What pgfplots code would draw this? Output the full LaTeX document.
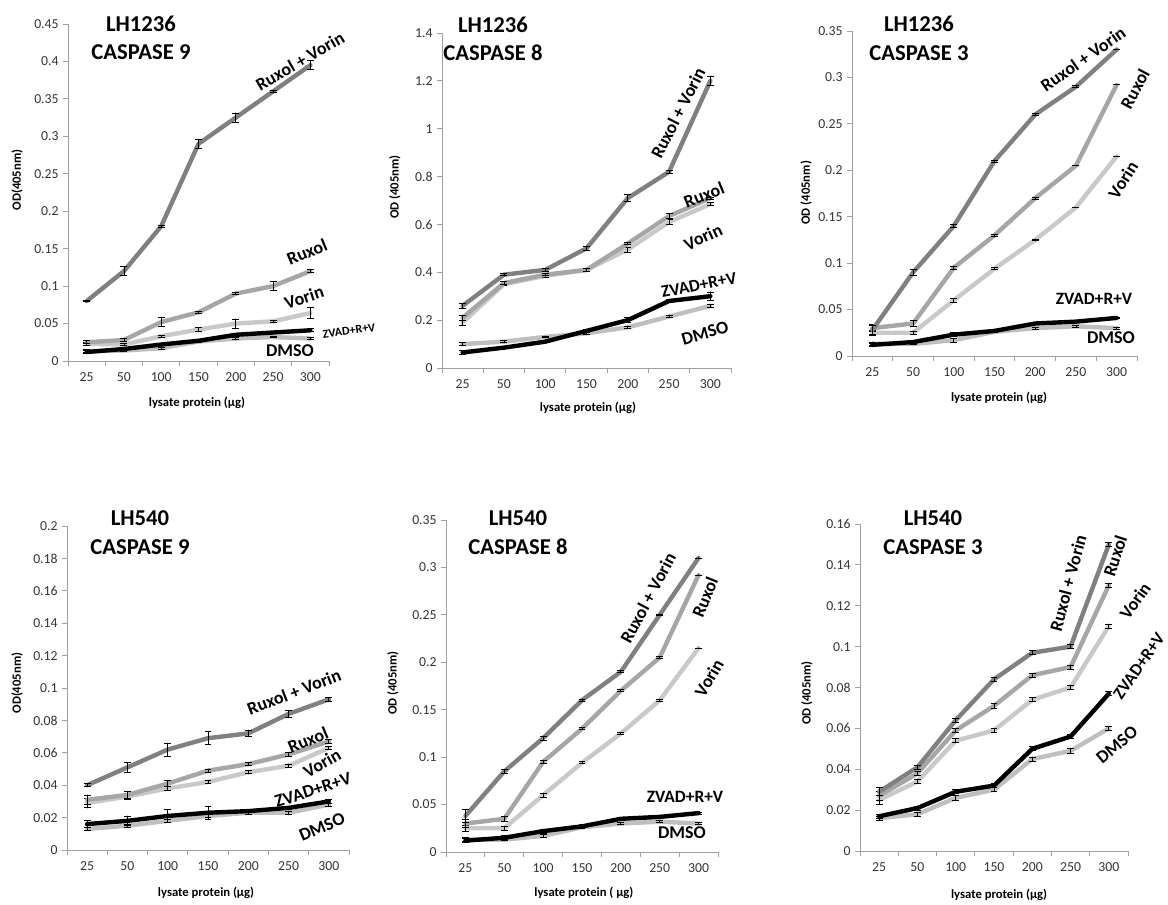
\documentclass[border=0pt]{standalone}
\usepackage{fontspec}
\setmainfont{Carlito}
\usepackage{pgfplots}
\pgfplotsset{compat=1.18}
\definecolor{cRV}{HTML}{808080}
\definecolor{cRux}{HTML}{A6A6A6}
\definecolor{cVor}{HTML}{C9C9C9}
\definecolor{cDM}{HTML}{BFBFBF}
\definecolor{cAx}{HTML}{A0A0A0}
\pgfplotsset{
  panel/.style={
    scale only axis,
    anchor=south west,
    axis lines=left,
    axis line style={-, draw=cAx, line width=0.7pt},
    xmin=0.5, xmax=7.5, ymin=0,
    xtick={1,...,7},
    xticklabels={25,50,100,150,200,250,300},
    minor xtick={0.5,1.5,...,7.5},
    major x tick style={draw=none},
    minor x tick style={draw=cAx, line width=0.7pt},
    ytick style={draw=cAx, line width=0.7pt},
    minor tick length=3.5pt,
    major tick length=3.5pt,
    tick align=outside,
    tick label style={font=\fontsize{10.3}{11}\selectfont, text=black!80},
    xticklabel style={yshift=-2pt},
    /pgf/number format/assume math mode=true,
    yticklabel style={/pgf/number format/fixed, /pgf/number format/precision=2},
    scaled y ticks=false,
    label style={font=\bfseries\fontsize{9.5}{11}\selectfont},
    ylabel style={anchor=center},
    xlabel style={anchor=center},
    clip=false,
  },
  ser/.style={line width=3.3pt, mark=none, line join=round, line cap=round, color=#1,
    error bars/.cd, y dir=both, y explicit,
    error bar style={black, line width=0.6pt},
    error mark options={black, rotate=90, mark size=2.6pt, line width=0.6pt}},
}
\newcommand{\ttl}[3]{\node[font=\bfseries\fontsize{17}{21.5}\selectfont, align=center] at (#1,#2) {#3};}
\newcommand{\lab}[5]{\node[font=\bfseries\fontsize{#5}{14}\selectfont, rotate=#3, inner sep=0pt] at (#1,#2) {#4};}
\begin{document}
\begin{tikzpicture}[x=0.75pt, y=0.75pt]
\path[use as bounding box] (0,0) rectangle (1168,904);

% ---------- Panel 1: LH1236 CASPASE 9
\begin{axis}[panel, at={(51pt,407.25pt)}, width=195.75pt, height=252.75pt,
  ymax=0.45, ytick={0,0.05,...,0.451},
  ylabel={OD(405nm)}, ylabel style={at={(axis description cs:-0.195,0.537)}},
  xlabel={lysate protein (µg)}, xlabel style={at={(axis description cs:0.494,-0.125)}}]
\addplot[ser=cDM] table[x index=0,y index=1,y error index=2] {
x y e
1 0.013 0.002
2 0.014 0.001
3 0.017 0.001
4 0.026 0.001
5 0.030 0.001
6 0.032 0.001
7 0.030 0.001
};
\addplot[ser=cVor] table[x index=0,y index=1,y error index=2] {
x y e
1 0.023 0.002
2 0.022 0.001
3 0.033 0.001
4 0.042 0.003
5 0.050 0.006
6 0.053 0.001
7 0.064 0.007
};
\addplot[ser=cRux] table[x index=0,y index=1,y error index=2] {
x y e
1 0.025 0.002
2 0.028 0.002
3 0.052 0.006
4 0.065 0.001
5 0.090 0.001
6 0.100 0.006
7 0.120 0.002
};
\addplot[ser=cRV] table[x index=0,y index=1,y error index=2] {
x y e
1 0.080 0.001
2 0.120 0.006
3 0.180 0.001
4 0.290 0.006
5 0.325 0.006
6 0.360 0.001
7 0.395 0.006
};
\addplot[ser=black] table[x index=0,y index=1,y error index=2] {
x y e
1 0.012 0.002
2 0.016 0.001
3 0.022 0.001
4 0.027 0.001
5 0.035 0.001
6 0.038 0.001
7 0.041 0.002
};
\end{axis}

% ---------- Panel 2: LH1236 CASPASE 8
\begin{axis}[panel, at={(331.5pt,402pt)}, width=216.75pt, height=251.25pt,
  ymax=1.4, ytick={0,0.2,...,1.41},
  ylabel={OD (405nm)}, ylabel style={at={(axis description cs:-0.163,0.540)}},
  xlabel={lysate protein (µg)}, xlabel style={at={(axis description cs:0.505,-0.119)}}]
\addplot[ser=cDM] table[x index=0,y index=1,y error index=2] {
x y e
1 0.100 0.005
2 0.110 0.004
3 0.130 0.004
4 0.145 0.004
5 0.170 0.005
6 0.215 0.005
7 0.260 0.005
};
\addplot[ser=cVor] table[x index=0,y index=1,y error index=2] {
x y e
1 0.190 0.010
2 0.350 0.005
3 0.385 0.005
4 0.410 0.005
5 0.495 0.010
6 0.610 0.010
7 0.685 0.005
};
\addplot[ser=cRux] table[x index=0,y index=1,y error index=2] {
x y e
1 0.210 0.010
2 0.355 0.005
3 0.390 0.005
4 0.410 0.005
5 0.520 0.005
6 0.635 0.010
7 0.710 0.005
};
\addplot[ser=cRV] table[x index=0,y index=1,y error index=2] {
x y e
1 0.260 0.010
2 0.390 0.005
3 0.410 0.005
4 0.500 0.010
5 0.710 0.015
6 0.820 0.005
7 1.200 0.020
};
\addplot[ser=black] table[x index=0,y index=1,y error index=2] {
x y e
1 0.065 0.008
2 0.085 0.005
3 0.110 0.005
4 0.155 0.005
5 0.200 0.010
6 0.280 0.005
7 0.300 0.018
};
\end{axis}

% ---------- Panel 3: LH1236 CASPASE 3
\begin{axis}[panel, at={(639pt,411pt)}, width=213.75pt, height=243.75pt,
  ymax=0.35, ytick={0,0.05,...,0.351},
  ylabel={OD (405nm)}, ylabel style={at={(axis description cs:-0.161,0.502)}},
  xlabel={lysate protein (µg)}, xlabel style={at={(axis description cs:0.516,-0.129)}}]
\addplot[ser=cDM] table[x index=0,y index=1,y error index=2] {
x y e
1 0.013 0.002
2 0.013 0.001
3 0.017 0.002
4 0.026 0.001
5 0.030 0.001
6 0.032 0.001
7 0.030 0.001
};
\addplot[ser=cVor] table[x index=0,y index=1,y error index=2] {
x y e
1 0.025 0.003
2 0.025 0.002
3 0.060 0.002
4 0.094 0.001
5 0.125 0.001
6 0.160 0.000
7 0.215 0.000
};
\addplot[ser=cRux] table[x index=0,y index=1,y error index=2] {
x y e
1 0.030 0.004
2 0.035 0.003
3 0.095 0.002
4 0.130 0.001
5 0.170 0.001
6 0.205 0.000
7 0.292 0.000
};
\addplot[ser=cRV] table[x index=0,y index=1,y error index=2] {
x y e
1 0.028 0.005
2 0.090 0.003
3 0.140 0.002
4 0.210 0.001
5 0.260 0.001
6 0.290 0.001
7 0.330 0.000
};
\addplot[ser=black] table[x index=0,y index=1,y error index=2] {
x y e
1 0.012 0.002
2 0.015 0.002
3 0.023 0.002
4 0.027 0.002
5 0.035 0.001
6 0.037 0.001
7 0.041 0.001
};
\end{axis}

% ---------- Panel 4: LH540 CASPASE 9
\begin{axis}[panel, at={(50.25pt,40.5pt)}, width=211.5pt, height=243pt,
  ymax=0.2, ytick={0,0.02,...,0.201},
  ylabel={OD(405nm)}, ylabel style={at={(axis description cs:-0.177,0.515)}},
  xlabel={lysate protein (µg)}, xlabel style={at={(axis description cs:0.493,-0.133)}}]
\addplot[ser=cDM] table[x index=0,y index=1,y error index=2] {
x y e
1 0.013 0.001
2 0.015 0.001
3 0.018 0.001
4 0.021 0.001
5 0.023 0.001
6 0.023 0.001
7 0.028 0.001
};
\addplot[ser=cVor] table[x index=0,y index=1,y error index=2] {
x y e
1 0.029 0.003
2 0.033 0.002
3 0.038 0.001
4 0.042 0.001
5 0.048 0.001
6 0.052 0.001
7 0.063 0.001
};
\addplot[ser=cRux] table[x index=0,y index=1,y error index=2] {
x y e
1 0.031 0.003
2 0.034 0.002
3 0.041 0.002
4 0.049 0.001
5 0.053 0.001
6 0.059 0.001
7 0.067 0.001
};
\addplot[ser=cRV] table[x index=0,y index=1,y error index=2] {
x y e
1 0.040 0.001
2 0.051 0.003
3 0.062 0.004
4 0.069 0.004
5 0.072 0.002
6 0.084 0.002
7 0.093 0.001
};
\addplot[ser=black] table[x index=0,y index=1,y error index=2] {
x y e
1 0.016 0.002
2 0.018 0.003
3 0.021 0.004
4 0.023 0.004
5 0.024 0.001
6 0.026 0.001
7 0.030 0.001
};
\end{axis}

% ---------- Panel 5: LH540 CASPASE 8
\begin{axis}[panel, at={(334.5pt,39pt)}, width=204pt, height=249pt,
  ymax=0.35, ytick={0,0.05,...,0.351},
  ylabel={OD (405nm)}, ylabel style={at={(axis description cs:-0.195,0.509)}},
  xlabel={lysate protein ( µg)}, xlabel style={at={(axis description cs:0.507,-0.123)}}]
\addplot[ser=cDM] table[x index=0,y index=1,y error index=2] {
x y e
1 0.013 0.002
2 0.013 0.001
3 0.017 0.002
4 0.026 0.001
5 0.030 0.001
6 0.032 0.001
7 0.030 0.001
};
\addplot[ser=cVor] table[x index=0,y index=1,y error index=2] {
x y e
1 0.025 0.003
2 0.025 0.002
3 0.060 0.002
4 0.094 0.001
5 0.125 0.001
6 0.160 0.001
7 0.215 0.000
};
\addplot[ser=cRux] table[x index=0,y index=1,y error index=2] {
x y e
1 0.030 0.004
2 0.035 0.003
3 0.095 0.002
4 0.130 0.001
5 0.170 0.001
6 0.205 0.001
7 0.292 0.000
};
\addplot[ser=cRV] table[x index=0,y index=1,y error index=2] {
x y e
1 0.038 0.007
2 0.085 0.002
3 0.120 0.002
4 0.160 0.001
5 0.190 0.001
6 0.250 0.001
7 0.310 0.000
};
\addplot[ser=black] table[x index=0,y index=1,y error index=2] {
x y e
1 0.012 0.002
2 0.015 0.002
3 0.022 0.002
4 0.027 0.002
5 0.035 0.001
6 0.037 0.001
7 0.041 0.001
};
\end{axis}

% ---------- Panel 6: LH540 CASPASE 3
\begin{axis}[panel, at={(645pt,39.75pt)}, width=201pt, height=245.25pt,
  ymax=0.16, ytick={0,0.02,...,0.161},
  ylabel={OD (405nm)}, ylabel style={at={(axis description cs:-0.198,0.483)}},
  xlabel={lysate protein (µg)}, xlabel style={at={(axis description cs:0.519,-0.135)}}]
\addplot[ser=cDM] table[x index=0,y index=1,y error index=2] {
x y e
1 0.016 0.001
2 0.018 0.001
3 0.026 0.001
4 0.030 0.001
5 0.045 0.001
6 0.049 0.001
7 0.060 0.001
};
\addplot[ser=cVor] table[x index=0,y index=1,y error index=2] {
x y e
1 0.025 0.002
2 0.034 0.001
3 0.054 0.001
4 0.059 0.001
5 0.074 0.001
6 0.080 0.001
7 0.110 0.001
};
\addplot[ser=cRux] table[x index=0,y index=1,y error index=2] {
x y e
1 0.027 0.002
2 0.038 0.001
3 0.059 0.001
4 0.071 0.001
5 0.086 0.001
6 0.090 0.001
7 0.130 0.001
};
\addplot[ser=cRV] table[x index=0,y index=1,y error index=2] {
x y e
1 0.029 0.002
2 0.041 0.001
3 0.064 0.001
4 0.084 0.001
5 0.097 0.001
6 0.100 0.001
7 0.150 0.001
};
\addplot[ser=black] table[x index=0,y index=1,y error index=2] {
x y e
1 0.017 0.001
2 0.021 0.001
3 0.029 0.001
4 0.032 0.001
5 0.050 0.001
6 0.056 0.001
7 0.077 0.001
};
\end{axis}

% ---------- Titles
\ttl{141}{866}{LH1236\\CASPASE 9}
\ttl{493}{865}{LH1236\\CASPASE 8}
\ttl{919}{865.5}{LH1236\\CASPASE 3}
\ttl{140}{371.5}{LH540\\CASPASE 9}
\ttl{518}{371.5}{LH540\\CASPASE 8}
\ttl{933}{371.5}{LH540\\CASPASE 3}

% ---------- Curve labels
\lab{300}{843}{30}{Ruxol + Vorin}{13.5}
\lab{307}{652}{23}{Ruxol}{13.5}
\lab{304}{607}{18}{Vorin}{13.5}
\lab{349}{573}{8}{ZVAD+R+V}{9}
\lab{290}{553}{0}{DMSO}{13.5}

\lab{678}{791}{63}{Ruxol + Vorin}{13.5}
\lab{704}{709}{22}{Ruxol}{13.5}
\lab{703}{667}{25}{Vorin}{13.5}
\lab{699}{619}{11}{ZVAD+R+V}{13}
\lab{705}{571}{16}{DMSO}{13.5}

\lab{1083}{845}{35}{Ruxol + Vorin}{13.5}
\lab{1135}{815}{62}{Ruxol}{13.5}
\lab{1123}{724}{58}{Vorin}{13.5}
\lab{1094}{605}{0}{ZVAD+R+V}{13}
\lab{1111}{566}{0}{DMSO}{13.5}

\lab{294}{212}{21}{Ruxol + Vorin}{13.5}
\lab{308}{164}{23}{Ruxol}{13.5}
\lab{322}{141}{30}{Vorin}{13.5}
\lab{313}{114}{18}{ZVAD+R+V}{13.5}
\lab{322}{77}{23}{DMSO}{13.5}

\lab{648}{306}{62}{Ruxol + Vorin}{13.5}
\lab{705}{307}{68}{Ruxol}{13.5}
\lab{709}{226}{60}{Vorin}{13.5}
\lab{685}{107}{0}{ZVAD+R+V}{13}
\lab{682}{71}{0}{DMSO}{13.5}

\lab{1068}{321}{75}{Ruxol + Vorin}{13.5}
\lab{1115}{348}{72}{Ruxol}{13.5}
\lab{1135}{303}{55}{Vorin}{13.5}
\lab{1139}{238}{55}{ZVAD+R+V}{13}
\lab{1117}{159}{40}{DMSO}{13.5}
\end{tikzpicture}
\end{document}
